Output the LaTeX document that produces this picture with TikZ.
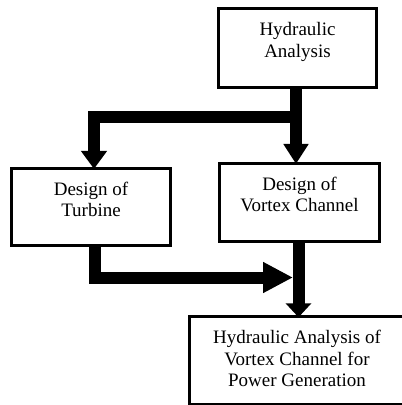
\documentclass[tikz,border=0pt]{standalone}
\usepackage{fontspec}
\setmainfont{Liberation Serif}
\usetikzlibrary{arrows.meta}
\begin{document}
\begin{tikzpicture}[x=1pt,y=-1pt,
  box/.style={draw=black,line width=2.6pt,inner sep=0pt},
  txt/.style={align=center,font=\fontsize{19}{21.5}\selectfont,inner sep=0pt},
  flow/.style={line width=12pt,draw=black},
]
\useasboundingbox (0,0) rectangle (402,405);
\node[box,minimum width=158.5pt,minimum height=79.5pt] (top) at (297.5,48) {};
\node[txt] (toptext) at (297.5,42) {Hydraulic\\Analysis};
\node[box,minimum width=159.5pt,minimum height=77.5pt] (turbine) at (91,207) {};
\node[txt] (turbinetext) at (91,199.5) {Design of\\Turbine};
\node[box,minimum width=160.5pt,minimum height=78.5pt] (vortex) at (299.5,202.5) {};
\node[txt] (vortextext) at (299.5,194.5) {Design of\\Vortex Channel};
\node[box,minimum width=214pt,minimum height=88pt,anchor=north west] (power) at (188.3,315.3) {};
\node[txt] (ptext) at (297,358.5) {Hydraulic Analysis of\\Vortex Channel for\\Power Generation};
\coordinate (b1) at (296,117);
\coordinate (j) at (298.5,277.5);
\draw[flow,-{Triangle[width=24pt,length=20pt]}] ([xshift=-1.5pt]top.south) -- ([xshift=-1.5pt,yshift=-2pt]top.south |- vortex.north);
\draw[flow,-{Triangle[width=25pt,length=18pt]}] (b1) -| ([xshift=3pt,yshift=-2pt]turbine.north);
\draw[flow,-{Triangle[width=29pt,length=30pt]}] ([xshift=4pt]turbine.south) |- ([xshift=-5.5pt]j);
\draw[flow,-{Triangle[width=25pt,length=14pt]}] ([xshift=-1pt]vortex.south) -- ([xshift=-1pt,yshift=-2pt]vortex.south |- power.north);
\end{tikzpicture}
\end{document}
